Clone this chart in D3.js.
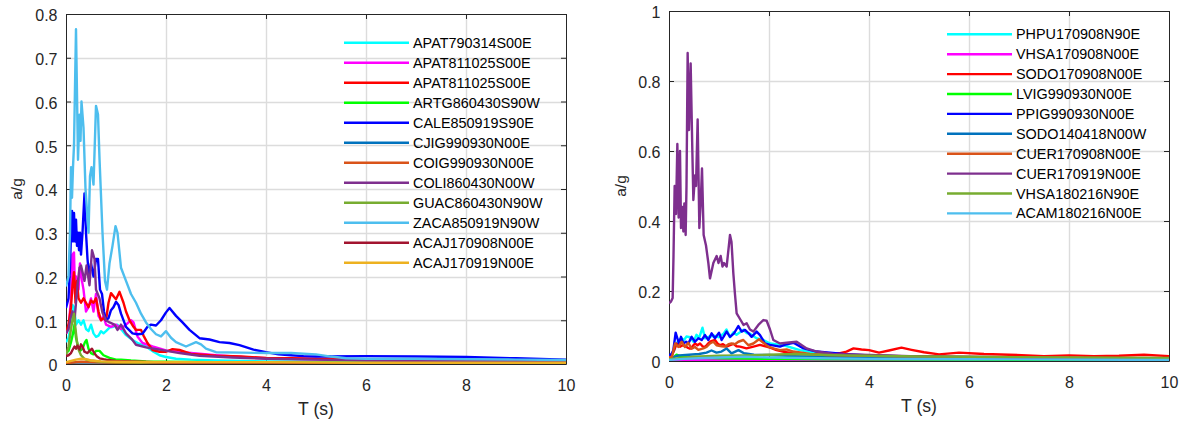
<!DOCTYPE html>
<html>
<head>
<meta charset="utf-8">
<script src="https://cdn.jsdelivr.net/npm/d3@7"></script>
<style>
	body { margin: 0; background: #fff; }
	svg text { font-family: "Liberation Sans", Arial, Helvetica, sans-serif; }
</style>
</head>
<body>
<svg id="chart" width="1181" height="423"></svg>
<script>
/*
	Spectral acceleration vs period, two panels.
	Each series = list of [T (s), a/g].
*/
const xTicks = [0, 2, 4, 6, 8, 10];
const yTicksLeft = [0, 0.1, 0.2, 0.3, 0.4, 0.5, 0.6, 0.7, 0.8];
const yTicksRight = [0, 0.2, 0.4, 0.6, 0.8, 1];

const namesLeft = ['APAT790314S00E', 'APAT811025S00E', 'APAT811025S00E', 'ARTG860430S90W',
	'CALE850919S90E', 'CJIG990930N00E', 'COIG990930N00E', 'COLI860430N00W',
	'GUAC860430N90W', 'ZACA850919N90W', 'ACAJ170908N00E', 'ACAJ170919N00E'];
const colorsLeft = ['#00ffff', '#ff00ff', '#ff0000', '#00ff00', '#0000ff', '#0072bd',
	'#d95319', '#7e2f8e', '#77ac30', '#4dbeee', '#a2142f', '#edb120'];

const namesRight = ['PHPU170908N90E', 'VHSA170908N00E', 'SODO170908N00E', 'LVIG990930N00E',
	'PPIG990930N00E', 'SODO140418N00W', 'CUER170908N00E', 'CUER170919N00E',
	'VHSA180216N90E', 'ACAM180216N00E'];
const colorsRight = ['#00ffff', '#ff00ff', '#ff0000', '#00ff00', '#0000ff', '#0072bd',
	'#d95319', '#7e2f8e', '#77ac30', '#4dbeee'];

// ---- left panel records ----
const APAT790314S00E = [[0,0.05],[0.05,0.06],[0.1,0.09],[0.13,0.135],[0.16,0.13],[0.2,0.09],[0.25,0.1],[0.3,0.09],[0.35,0.1],[0.4,0.08],[0.45,0.075],[0.5,0.09],[0.55,0.07],[0.6,0.062],[0.65,0.065],[0.7,0.075],[0.75,0.07],[0.8,0.075],[0.87,0.083],[0.95,0.085],[1.03,0.09],[1.1,0.08],[1.2,0.066],[1.33,0.055],[1.45,0.047],[1.6,0.04],[1.75,0.028],[1.87,0.02],[2,0.016],[2.2,0.012],[2.5,0.01],[3,0.008],[4,0.006],[5,0.005],[7,0.004],[10,0.003]];
const APAT811025S00E_1 = [[0,0.07],[0.05,0.08],[0.1,0.15],[0.13,0.25],[0.16,0.255],[0.18,0.16],[0.2,0.2],[0.25,0.17],[0.28,0.23],[0.32,0.19],[0.35,0.17],[0.4,0.12],[0.45,0.13],[0.5,0.15],[0.55,0.12],[0.6,0.16],[0.65,0.11],[0.7,0.1],[0.75,0.11],[0.8,0.09],[0.9,0.085],[1,0.09],[1.1,0.08],[1.2,0.09],[1.3,0.1],[1.35,0.095],[1.43,0.063],[1.53,0.048],[1.73,0.04],[2,0.031],[2.5,0.025],[3,0.02],[3.5,0.016],[4,0.013],[5,0.011],[6,0.009],[8,0.007],[10,0.005]];
const APAT811025S00E_2 = [[0,0.07],[0.05,0.09],[0.1,0.13],[0.13,0.18],[0.16,0.21],[0.19,0.14],[0.22,0.19],[0.25,0.15],[0.3,0.14],[0.35,0.15],[0.4,0.14],[0.45,0.13],[0.5,0.145],[0.55,0.14],[0.6,0.15],[0.65,0.12],[0.7,0.1],[0.75,0.105],[0.8,0.1],[0.85,0.14],[0.9,0.162],[0.95,0.155],[1,0.148],[1.07,0.165],[1.15,0.14],[1.2,0.12],[1.27,0.1],[1.35,0.085],[1.4,0.078],[1.5,0.078],[1.55,0.065],[1.63,0.048],[1.73,0.032],[1.87,0.028],[2,0.028],[2.13,0.034],[2.27,0.032],[2.5,0.023],[3,0.019],[3.5,0.017],[4,0.014],[4.5,0.013],[5,0.012],[6,0.011],[7,0.01],[8,0.008],[9,0.007],[10,0.006]];
const ARTG860430S90W = [[0,0.025],[0.05,0.03],[0.1,0.05],[0.14,0.07],[0.17,0.09],[0.2,0.06],[0.24,0.04],[0.28,0.03],[0.33,0.035],[0.38,0.05],[0.41,0.055],[0.45,0.035],[0.5,0.025],[0.55,0.022],[0.6,0.03],[0.67,0.03],[0.75,0.02],[0.87,0.014],[1,0.01],[1.1,0.01],[1.3,0.008],[1.6,0.006],[2,0.005],[3,0.004],[5,0.003],[10,0.002]];
const CALE850919S90E = [[0,0.128],[0.05,0.15],[0.08,0.22],[0.1,0.3],[0.12,0.35],[0.14,0.28],[0.16,0.345],[0.18,0.28],[0.2,0.33],[0.22,0.27],[0.24,0.3],[0.26,0.26],[0.28,0.3],[0.3,0.25],[0.33,0.3],[0.37,0.39],[0.4,0.3],[0.43,0.24],[0.46,0.2],[0.5,0.23],[0.55,0.2],[0.6,0.24],[0.64,0.24],[0.68,0.17],[0.72,0.16],[0.76,0.12],[0.8,0.1],[0.85,0.105],[0.9,0.123],[0.95,0.13],[1,0.142],[1.05,0.135],[1.1,0.115],[1.2,0.085],[1.33,0.07],[1.43,0.068],[1.53,0.069],[1.63,0.085],[1.7,0.09],[1.8,0.088],[1.9,0.1],[2,0.118],[2.07,0.128],[2.2,0.11],[2.33,0.095],[2.47,0.078],[2.67,0.059],[2.87,0.056],[3.07,0.05],[3.27,0.048],[3.47,0.043],[3.75,0.033],[4,0.027],[4.25,0.022],[4.5,0.02],[4.75,0.018],[5,0.017],[6,0.018],[7,0.017],[8,0.016],[9,0.013],[10,0.01]];
const CJIG990930N00E = [[0,0.002],[0.3,0.004],[1,0.003],[3,0.002],[10,0.001]];
const COIG990930N00E = [[0,0.002],[0.3,0.005],[0.6,0.004],[1,0.003],[3,0.002],[10,0.002]];
const COLI860430N00W = [[0,0.07],[0.05,0.08],[0.1,0.11],[0.13,0.12],[0.17,0.1],[0.2,0.14],[0.23,0.18],[0.27,0.22],[0.3,0.225],[0.33,0.21],[0.37,0.19],[0.41,0.225],[0.47,0.18],[0.52,0.26],[0.57,0.24],[0.6,0.17],[0.67,0.15],[0.73,0.117],[0.8,0.1],[0.87,0.095],[0.97,0.09],[1.03,0.078],[1.1,0.09],[1.2,0.07],[1.33,0.055],[1.4,0.044],[1.6,0.038],[1.87,0.033],[2.27,0.025],[2.67,0.019],[3.33,0.015],[4,0.012],[5,0.01],[6,0.008],[8,0.006],[10,0.005]];
const GUAC860430N90W = [[0,0.02],[0.05,0.04],[0.1,0.08],[0.13,0.1],[0.16,0.115],[0.19,0.08],[0.22,0.05],[0.26,0.03],[0.3,0.02],[0.35,0.014],[0.4,0.01],[0.5,0.008],[0.7,0.005],[1,0.004],[2,0.003],[5,0.002],[10,0.001]];
const ZACA850919N90W = [[0,0.177],[0.05,0.2],[0.08,0.3],[0.1,0.45],[0.12,0.38],[0.14,0.45],[0.16,0.5],[0.2,0.765],[0.24,0.467],[0.27,0.57],[0.29,0.51],[0.31,0.6],[0.35,0.54],[0.39,0.4],[0.45,0.3],[0.48,0.43],[0.51,0.45],[0.55,0.41],[0.6,0.59],[0.64,0.57],[0.67,0.47],[0.73,0.3],[0.78,0.19],[0.82,0.17],[0.87,0.23],[0.93,0.27],[0.99,0.315],[1.03,0.3],[1.1,0.22],[1.2,0.19],[1.3,0.16],[1.4,0.14],[1.5,0.115],[1.6,0.095],[1.7,0.08],[1.8,0.068],[1.9,0.063],[2,0.075],[2.1,0.06],[2.2,0.05],[2.4,0.04],[2.6,0.05],[2.7,0.045],[2.8,0.035],[3,0.027],[3.5,0.026],[4,0.025],[4.5,0.025],[5,0.022],[5.3,0.017],[5.6,0.013],[6,0.012],[7,0.012],[8,0.011],[9,0.01],[10,0.009]];
const ACAJ170908N00E = [[0,0.018],[0.05,0.02],[0.1,0.025],[0.13,0.032],[0.17,0.04],[0.2,0.035],[0.23,0.042],[0.27,0.033],[0.3,0.045],[0.33,0.04],[0.37,0.028],[0.43,0.025],[0.47,0.03],[0.52,0.035],[0.57,0.024],[0.62,0.017],[0.67,0.013],[0.75,0.011],[0.85,0.009],[1,0.007],[1.5,0.005],[2,0.003],[3,0.002],[10,0.001]];
const ACAJ170919N00E = [[0,0.004],[0.1,0.007],[0.2,0.01],[0.3,0.012],[0.4,0.011],[0.5,0.008],[0.7,0.006],[1,0.005],[2,0.004],[4,0.004],[6,0.003],[10,0.003]];

// ---- right panel records ----
const PHPU170908N90E = [[0,0.012],[0.05,0.015],[0.1,0.03],[0.15,0.05],[0.2,0.06],[0.25,0.065],[0.3,0.06],[0.35,0.07],[0.42,0.068],[0.49,0.055],[0.55,0.075],[0.6,0.065],[0.67,0.095],[0.72,0.065],[0.82,0.07],[0.92,0.072],[0.99,0.068],[1.09,0.078],[1.15,0.09],[1.22,0.068],[1.29,0.082],[1.35,0.075],[1.42,0.082],[1.49,0.089],[1.55,0.08],[1.62,0.078],[1.75,0.065],[1.89,0.06],[2.02,0.05],[2.29,0.045],[2.62,0.031],[2.95,0.022],[3.5,0.018],[4,0.015],[5,0.012],[6,0.01],[8,0.008],[10,0.006]];
const VHSA170908N00E = [[0,0.001],[0.5,0.003],[1,0.004],[1.5,0.003],[3,0.002],[10,0.001]];
const SODO170908N00E = [[0,0.01],[0.05,0.015],[0.1,0.03],[0.153,0.05],[0.22,0.041],[0.27,0.045],[0.32,0.044],[0.37,0.038],[0.42,0.035],[0.47,0.042],[0.52,0.05],[0.57,0.045],[0.62,0.05],[0.67,0.042],[0.72,0.04],[0.77,0.048],[0.82,0.055],[0.92,0.06],[0.97,0.05],[1.02,0.045],[1.08,0.048],[1.15,0.041],[1.22,0.045],[1.29,0.049],[1.35,0.042],[1.42,0.041],[1.55,0.036],[1.69,0.041],[1.82,0.046],[1.95,0.041],[2.05,0.037],[2.15,0.031],[2.3,0.026],[2.49,0.022],[2.82,0.019],[3.15,0.018],[3.4,0.022],[3.55,0.027],[3.69,0.036],[3.85,0.033],[4,0.031],[4.2,0.024],[4.4,0.03],[4.65,0.038],[4.85,0.032],[5.1,0.025],[5.4,0.019],[5.8,0.024],[6.3,0.02],[6.8,0.018],[7.5,0.014],[8,0.016],[8.5,0.014],[9,0.015],[9.5,0.018],[10,0.014]];
const LVIG990930N00E = [[0,0.005],[0.1,0.012],[0.15,0.018],[0.25,0.012],[0.4,0.01],[0.6,0.009],[1,0.008],[1.5,0.007],[2,0.006],[3,0.005],[5,0.004],[10,0.003]];
const PPIG990930N00E = [[0,0.017],[0.05,0.02],[0.087,0.031],[0.133,0.081],[0.167,0.065],[0.2,0.05],[0.24,0.069],[0.287,0.05],[0.34,0.055],[0.387,0.05],[0.453,0.069],[0.52,0.055],[0.587,0.065],[0.653,0.06],[0.72,0.074],[0.787,0.06],[0.853,0.079],[0.92,0.065],[1,0.081],[1.053,0.06],[1.153,0.084],[1.22,0.069],[1.3,0.079],[1.387,0.1],[1.453,0.084],[1.52,0.089],[1.587,0.08],[1.653,0.069],[1.753,0.084],[1.82,0.074],[1.92,0.05],[2.02,0.046],[2.22,0.041],[2.35,0.048],[2.49,0.052],[2.69,0.036],[2.95,0.027],[3.49,0.02],[4,0.016],[5,0.012],[6,0.01],[8,0.008],[10,0.006]];
const SODO140418N00W = [[0,0.005],[0.1,0.012],[0.2,0.016],[0.4,0.018],[0.6,0.02],[0.75,0.024],[0.85,0.03],[0.95,0.024],[1.05,0.027],[1.15,0.036],[1.25,0.022],[1.39,0.031],[1.5,0.022],[1.7,0.018],[2,0.017],[2.5,0.014],[3,0.012],[4,0.01],[6,0.008],[10,0.005]];
const CUER170908N00E = [[0,0.01],[0.06,0.012],[0.12,0.05],[0.187,0.04],[0.253,0.055],[0.32,0.04],[0.387,0.052],[0.453,0.035],[0.52,0.04],[0.587,0.032],[0.687,0.036],[0.75,0.04],[0.82,0.05],[0.887,0.055],[0.95,0.045],[1.05,0.042],[1.12,0.041],[1.19,0.048],[1.253,0.05],[1.32,0.048],[1.387,0.055],[1.487,0.06],[1.587,0.045],[1.687,0.05],[1.8,0.062],[1.887,0.052],[1.987,0.041],[2.087,0.036],[2.22,0.031],[2.353,0.033],[2.487,0.027],[2.82,0.02],[3.15,0.017],[3.5,0.016],[4,0.015],[5,0.013],[6,0.011],[7,0.01],[8,0.009],[10,0.008]];
const CUER170919N00E = [[0,0.165],[0.04,0.17],[0.073,0.18],[0.09,0.3],[0.113,0.5],[0.14,0.42],[0.167,0.62],[0.193,0.41],[0.22,0.6],[0.24,0.38],[0.267,0.44],[0.287,0.37],[0.307,0.45],[0.333,0.36],[0.35,0.5],[0.373,0.88],[0.4,0.66],[0.433,0.85],[0.467,0.6],[0.487,0.46],[0.52,0.53],[0.54,0.5],[0.573,0.69],[0.607,0.38],[0.633,0.45],[0.66,0.55],[0.693,0.36],[0.74,0.33],[0.787,0.28],[0.82,0.236],[0.887,0.28],[0.953,0.3],[0.99,0.28],[1.033,0.3],[1.07,0.27],[1.1,0.28],[1.153,0.27],[1.22,0.36],[1.25,0.34],[1.287,0.25],[1.32,0.19],[1.353,0.136],[1.42,0.12],[1.49,0.103],[1.553,0.108],[1.62,0.09],[1.687,0.084],[1.787,0.103],[1.887,0.117],[1.953,0.115],[2.02,0.09],[2.087,0.06],[2.22,0.05],[2.353,0.052],[2.553,0.055],[2.753,0.036],[2.953,0.027],[3.287,0.02],[4,0.017],[5,0.013],[6,0.012],[7,0.01],[8,0.009],[10,0.007]];
const VHSA180216N90E = [[0,0.005],[0.2,0.008],[0.5,0.012],[1,0.015],[1.5,0.016],[2,0.018],[2.5,0.02],[3,0.018],[3.5,0.016],[4,0.015],[5,0.013],[6,0.012],[8,0.01],[10,0.009]];
const ACAM180216N00E = [[0,0.003],[0.3,0.006],[0.6,0.008],[1,0.01],[1.5,0.012],[2,0.01],[3,0.008],[4,0.006],[6,0.005],[10,0.003]];

const seriesLeft = [APAT790314S00E, APAT811025S00E_1, APAT811025S00E_2, ARTG860430S90W,
	CALE850919S90E, CJIG990930N00E, COIG990930N00E, COLI860430N00W,
	GUAC860430N90W, ZACA850919N90W, ACAJ170908N00E, ACAJ170919N00E];
const seriesRight = [PHPU170908N90E, VHSA170908N00E, SODO170908N00E, LVIG990930N00E,
	PPIG990930N00E, SODO140418N00W, CUER170908N00E, CUER170919N00E,
	VHSA180216N90E, ACAM180216N00E];


const svg = d3.select('#chart');
const AXC = '#262626';
const LW = 2.4; // data line width

function panel(opt) {
	const w = 500, h = 350;
	const x = d3.scaleLinear().domain([0, 10]).range([0, w]);
	const y = d3.scaleLinear().domain([0, opt.yMax]).range([h, 0]);

	const g = svg.append('g')
		.attr('transform', `translate(${opt.left},${opt.top})`);

	// grid
	g.append('g').selectAll('line').data(xTicks.slice(1, -1))
		.enter().append('line')
			.attr('x1', d => Math.round(x(d)) + 0.5).attr('x2', d => Math.round(x(d)) + 0.5)
			.attr('y1', 0).attr('y2', h)
			.attr('stroke', '#dcdcdc').attr('stroke-width', 1.4);
	g.append('g').selectAll('line').data(opt.yTicks.slice(1, -1))
		.enter().append('line')
			.attr('x1', 0).attr('x2', w)
			.attr('y1', d => Math.round(y(d)) + 0.5).attr('y2', d => Math.round(y(d)) + 0.5)
			.attr('stroke', '#dcdcdc').attr('stroke-width', 1.4);

	// box + inward ticks (MATLAB style)
	const ax = [
		g.append('g').attr('transform', `translate(0,${h})`)
			.call(d3.axisBottom(x).tickValues(xTicks).tickSize(-5).tickSizeOuter(0).tickPadding(15.5).tickFormat(d => d)),
		g.append('g')
			.call(d3.axisTop(x).tickValues(xTicks).tickSize(-5).tickSizeOuter(0).tickFormat('')),
		g.append('g')
			.call(d3.axisLeft(y).tickValues(opt.yTicks).tickSize(-5).tickSizeOuter(0).tickPadding(8.5).tickFormat(d => d)),
		g.append('g').attr('transform', `translate(${w},0)`)
			.call(d3.axisRight(y).tickValues(opt.yTicks).tickSize(-5).tickSizeOuter(0).tickFormat(''))
	];
	ax.forEach(a => {
		a.attr('color', AXC).attr('font-size', 16).attr('font-family', null);
	});
	ax[2].selectAll('text').attr('dy', '0.43em');

	// axis labels
	g.append('text')
		.attr('x', w / 2).attr('y', h + 50.5)
		.attr('text-anchor', 'middle')
		.attr('font-size', 17.6).attr('fill', AXC)
		.text('T (s)');
	g.append('text')
		.attr('transform', `translate(${opt.ylabelX - opt.left},${h / 2}) rotate(-90)`)
		.attr('text-anchor', 'middle')
		.attr('font-size', 15.5).attr('fill', AXC)
		.text('a/g');

	// data
	const clipId = 'clip-' + opt.id;
	g.append('clipPath').attr('id', clipId)
		.append('rect').attr('x', 0).attr('y', -1).attr('width', w).attr('height', h + 1);

	const line = d3.line().x(d => x(d[0])).y(d => y(d[1]));
	g.append('g').attr('clip-path', `url(#${clipId})`)
		.selectAll('path').data(opt.series)
		.enter().append('path')
			.attr('d', line)
			.attr('fill', 'none')
			.attr('stroke', (d, i) => opt.colors[i])
			.attr('stroke-width', LW)
			.attr('stroke-linejoin', 'round');

	// legend, no box
	const lg = svg.append('g');
	const rows = lg.selectAll('g').data(opt.names)
		.enter().append('g')
			.attr('transform', (d, i) => `translate(${opt.legX},${opt.legY + i * opt.legStep})`);
	rows.append('line')
		.attr('x1', 0).attr('x2', 65)
		.attr('stroke', (d, i) => opt.colors[i])
		.attr('stroke-width', LW);
	rows.append('text')
		.attr('x', 69).attr('dy', '0.35em')
		.attr('font-size', 14.4).attr('fill', '#000')
		.text(d => d);
}

panel({ id: 'a', left: 66, top: 14, yMax: 0.8, yTicks: yTicksLeft, ylabelX: 22,
	series: seriesLeft, names: namesLeft, colors: colorsLeft,
	legX: 344, legY: 42.7, legStep: 20 });
panel({ id: 'b', left: 669, top: 11, yMax: 1, yTicks: yTicksRight, ylabelX: 626,
	series: seriesRight, names: namesRight, colors: colorsRight,
	legX: 947, legY: 34.3, legStep: 19.9 });
</script>
</body>
</html>
